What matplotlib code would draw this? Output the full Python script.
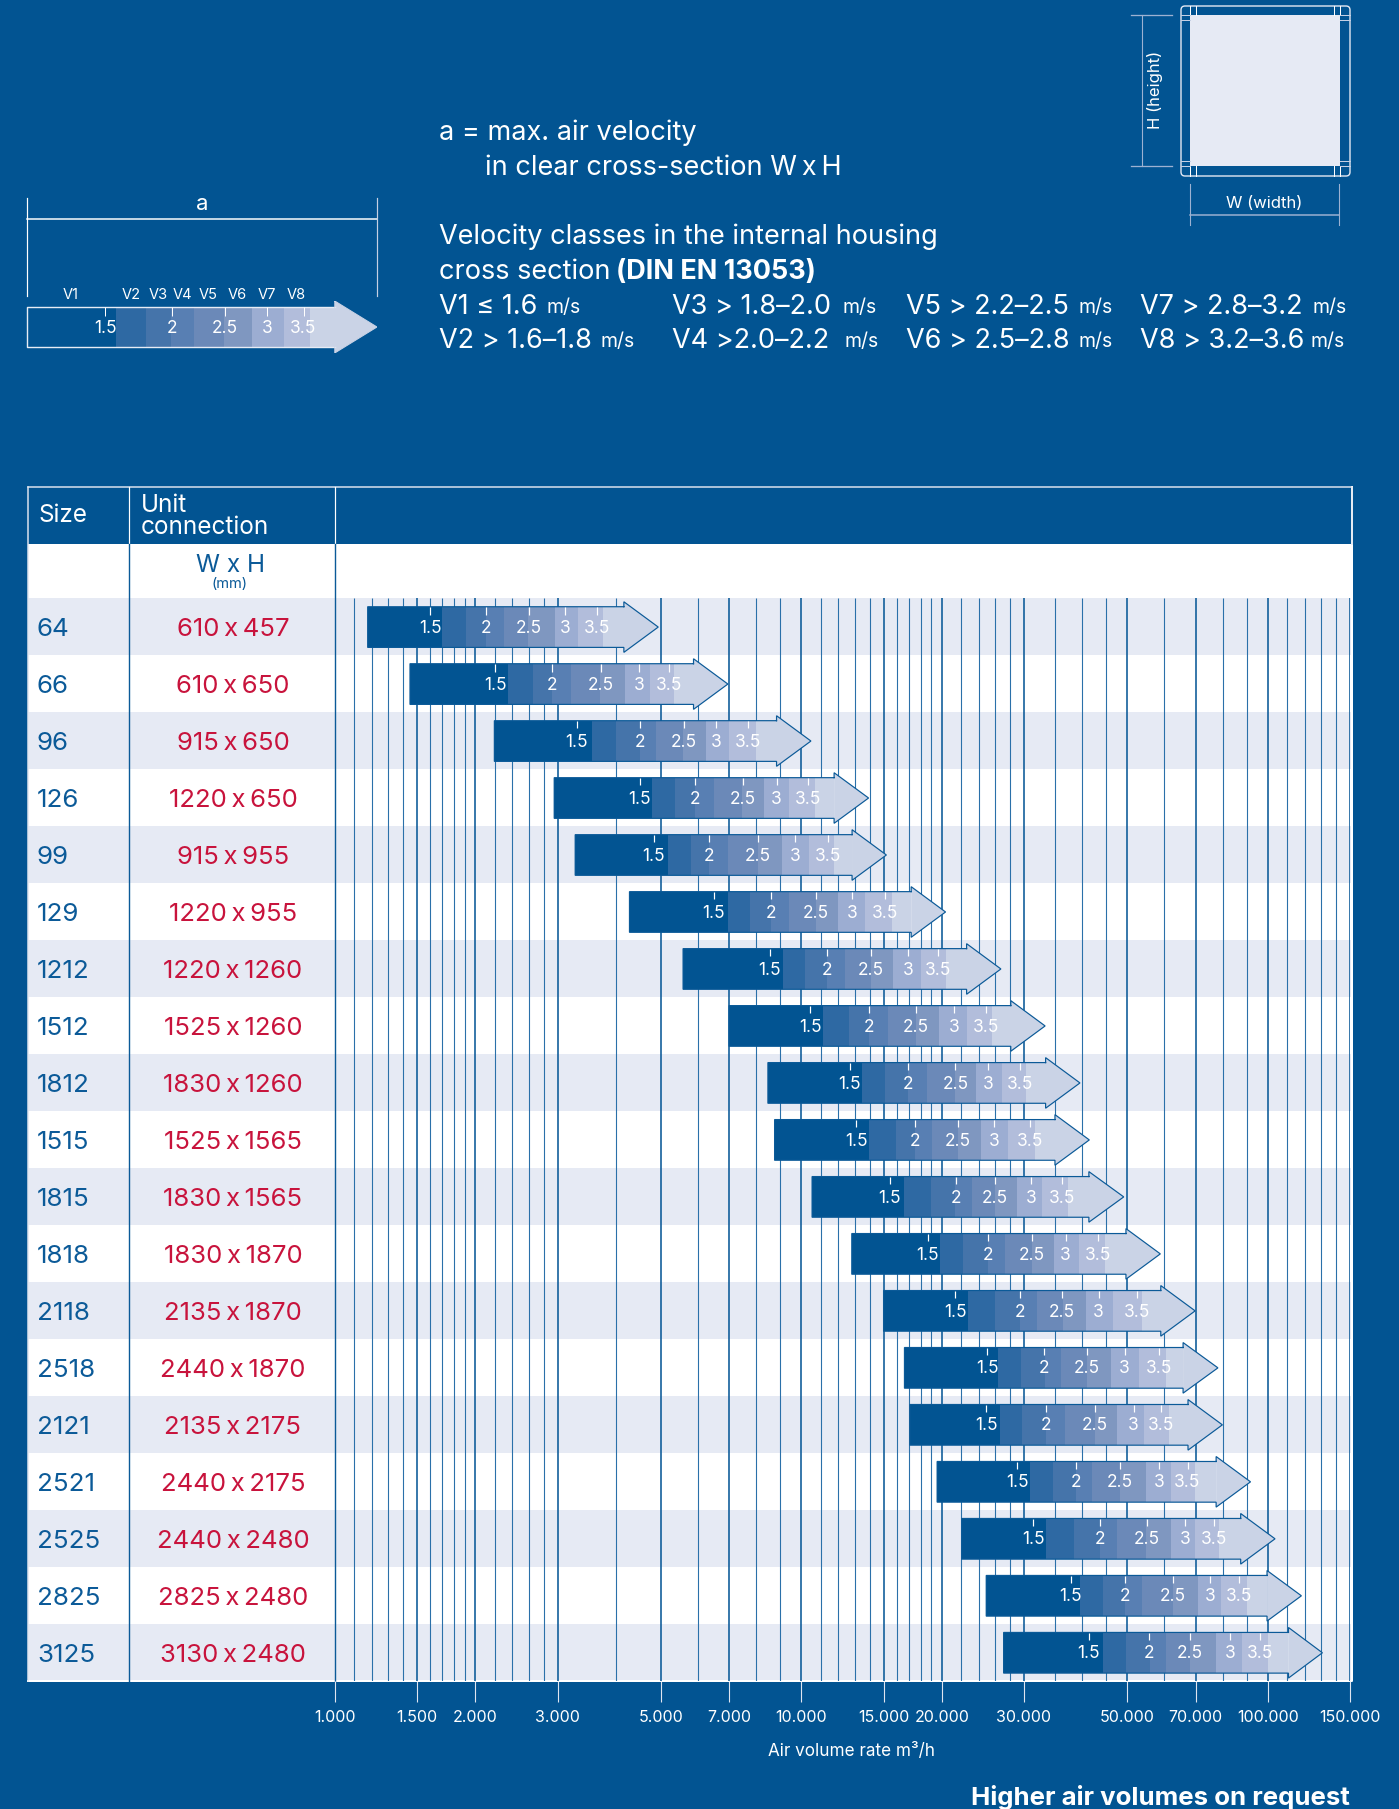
import matplotlib
matplotlib.use('Agg')
import matplotlib.pyplot as plt
from matplotlib.patches import Rectangle, FancyBboxPatch
from matplotlib.ticker import NullLocator

plt.rcParams['font.family'] = ['Inter', 'DejaVu Sans']

sizes = ['64', '66', '96', '126', '99', '129', '1212', '1512', '1812', '1515', '1815', '1818',
         '2118', '2518', '2121', '2521', '2525', '2825', '3125']
units = ['610 x 457', '610 x 650', '915 x 650', '1220 x 650', '915 x 955', '1220 x 955', '1220 x 1260',
         '1525 x 1260', '1830 x 1260', '1525 x 1565', '1830 x 1565', '1830 x 1870', '2135 x 1870',
         '2440 x 1870', '2135 x 2175', '2440 x 2175', '2440 x 2480', '2825 x 2480', '3130 x 2480']

# air volume m3/h where each arrow starts, where each velocity class ends, head base and tip
start = [1175, 1448, 2196, 2951, 3273, 4279, 5575, 6995, 8474, 8759, 10540, 12820, 15000, 16630, 17080, 19540, 22050, 24900, 27130]
v1_end = [1697, 2352, 3559, 4782, 5177, 6965, 9133, 11140, 13490, 13980, 16630, 19840, 22800, 26420, 26600, 30970, 33520, 39640, 44260]
v2_end = [1907, 2661, 4000, 5363, 5793, 7759, 10170, 12660, 15100, 15950, 18940, 22250, 25960, 29630, 29760, 34570, 38350, 44260, 49520]
v3_end = [2106, 2925, 4506, 5922, 6340, 8606, 11340, 13980, 16930, 17540, 21380, 25060, 29370, 33230, 33380, 38690, 43770, 49300, 55780]
v4_end = [2306, 3209, 4878, 6496, 6955, 9399, 12410, 15330, 18570, 19070, 23250, 27250, 31940, 35970, 36690, 42070, 47590, 53610, 60380]
v5_end = [2591, 3703, 5580, 7464, 8080, 10750, 14100, 17610, 21340, 21670, 25960, 31170, 36290, 40880, 42530, 48120, 54920, 62690, 68020]
v6_end = [2964, 4190, 6243, 8315, 9081, 11980, 15710, 19710, 23670, 24250, 29050, 34730, 40700, 46050, 47590, 54680, 61870, 70770, 77290]
v7_end = [3317, 4740, 7001, 9407, 10390, 13700, 18050, 22650, 26890, 27740, 32870, 39290, 46450, 52910, 54200, 61870, 69840, 79190, 88030]
v8_end = [3752, 5327, 7991, 10690, 11750, 15640, 20420, 25620, 30290, 31660, 37350, 44650, 53850, 60380, 61320, 69690, 78490, 90190, 100000]
head = [4162, 5870, 8844, 11750, 12840, 17190, 22600, 28110, 33380, 34960, 41330, 49630, 58940, 65800, 67420, 77460, 87440, 99590, 110700]
tip = [4932, 6955, 10480, 13930, 15210, 20370, 26770, 33300, 39550, 41420, 49090, 58810, 69840, 78150, 79890, 91790, 103600, 118000, 130900]

# air volume at the labelled velocities
at_1_5 = [1599, 2206, 3295, 4506, 4824, 6490, 8549, 10450, 12680, 13110, 15470, 18650, 21380, 25010, 24900, 28990, 31380, 37760, 41330]
at_2_0 = [2106, 2925, 4506, 5922, 6340, 8606, 11340, 13980, 16930, 17540, 21480, 25060, 29370, 33160, 33380, 38690, 43670, 49300, 55660]
at_2_5 = [2603, 3711, 5592, 7480, 8080, 10750, 14100, 17610, 21380, 21670, 25960, 31170, 36210, 40970, 42530, 48120, 55050, 62690, 68020]
at_3_0 = [3118, 4486, 6568, 8844, 9702, 12820, 16930, 21240, 25120, 25900, 31100, 36860, 43390, 49300, 51520, 58420, 66530, 75270, 83120]
at_3_5 = [3646, 5200, 7681, 10320, 11420, 15100, 19620, 24900, 29370, 30900, 36210, 43200, 52330, 58420, 59070, 67270, 76780, 86870, 96350]

speed_labels = ['1.5', '2', '2.5', '3', '3.5']
class_names = ['V1', 'V2', 'V3', 'V4', 'V5', 'V6', 'V7', 'V8']

tick_vals = [1000, 1500, 2000, 3000, 5000, 7000, 10000, 15000, 20000, 30000, 50000, 70000, 100000, 150000]
tick_names = ['1.000', '1.500', '2.000', '3.000', '5.000', '7.000', '10.000', '15.000', '20.000', '30.000',
              '50.000', '70.000', '100.000', '150.000']
thin_vals = [1100, 1200, 1300, 1400, 1600, 1700, 1800, 1900, 2200, 2400, 2600, 2800, 4000, 6000, 8000, 9000,
             11000, 12000, 13000, 14000, 16000, 17000, 18000, 19000, 22000, 24000, 26000, 28000, 35000, 40000,
             45000, 60000, 80000, 90000, 110000, 120000, 130000, 140000]

# key arrow, velocities in m/s as drawn
key_start, key_head, key_tip = 1.075, 4.0, 4.79
key_ends = [1.57, 1.79, 1.99, 2.19, 2.49, 2.81, 3.22, 3.6]
key_ticks = [1.5, 2, 2.5, 3, 3.5]
key_pos = [71, 131, 158, 182, 208, 237, 267, 296]

BG = '#025492'
STRIPE = '#e6eaf4'
RED = '#c8133c'
LINE = '#0b5a98'
THIN = '#2a70a9'
LIGHT = '#cad3e6'
seg_colors = [BG, '#2e69a3', '#4574aa', '#587fb3', '#6b89b8', '#7f97c0', '#9cadd2', '#b2bddb', LIGHT]

W, H = 1399, 1809
px = 0.72  # one pixel in points at dpi 100

fig = plt.figure(figsize=(W / 100, H / 100), dpi=100, facecolor=BG)

# page level things in pixel coordinates
bg = fig.add_axes([0, 0, 1, 1], zorder=0)
bg.set_xlim(0, W)
bg.set_ylim(H, 0)
bg.axis('off')

LEFT, COL1, COL2, RIGHT, TABLE_R = 27.5, 128.6, 335, 1350, 1351.5
TOP, HEAD_B, ROWS_T, ROWS_B = 487, 544, 598, 1680.7
row_h = (ROWS_B - ROWS_T) / len(sizes)

bg.add_patch(Rectangle((LEFT, HEAD_B), TABLE_R - LEFT, ROWS_B - HEAD_B, color='white', lw=0))
for i in range(0, len(sizes), 2):
    bg.add_patch(Rectangle((LEFT, ROWS_T + i * row_h), TABLE_R - LEFT, row_h, color=STRIPE, lw=0))

bg.plot([LEFT, TABLE_R, TABLE_R], [ROWS_B, ROWS_B, TOP], color='white', lw=2 * px)
bg.plot([LEFT, TABLE_R, TABLE_R], [TOP, TOP, HEAD_B], color='#dfe5f0', lw=1.5 * px)
bg.plot([LEFT, LEFT], [TOP, ROWS_B], color='#dfe5f0', lw=1.5 * px)
for x in [COL1, COL2]:
    bg.plot([x, x], [TOP, HEAD_B], color='white', lw=1.2 * px)
    bg.plot([x, x], [HEAD_B, ROWS_B], color=LINE, lw=1.4 * px, zorder=3)

bg.text(38, 516, 'Size', color='white', fontsize=17.5, va='center')
bg.text(141, 506, 'Unit', color='white', fontsize=17.5, va='center')
bg.text(141, 528, 'connection', color='white', fontsize=17.5, va='center')
bg.text(230, 566, 'W x H', color=LINE, fontsize=17.5, va='center', ha='center')
bg.text(230, 584, '(mm)', color=LINE, fontsize=10.5, va='center', ha='center')

for i, (s, u) in enumerate(zip(sizes, units)):
    yc = ROWS_T + (i + 0.5) * row_h
    bg.text(37, yc + 3.5, s, color=LINE, fontsize=18.7, va='center')
    bg.text(233, yc + 3.5, u.replace(' x ', '\u2009x\u2009'), color=RED, fontsize=18.5, va='center', ha='center')

# top texts
TXT = 19.5
bg.text(439, 133, 'a = max. air velocity', color='white', fontsize=TXT, va='center')
bg.text(485, 168, 'in clear cross-section W\u2009x\u2009H', color='white', fontsize=TXT, va='center')
bg.text(439, 237, 'Velocity classes in the internal housing', color='white', fontsize=TXT, va='center')
bg.text(439, 272, 'cross section', color='white', fontsize=TXT, va='center')
bg.text(616, 272, '(DIN EN 13053)', color='white', fontsize=TXT, va='center', fontweight='bold')

class_text = [('V1 \u2264 1.6', 439, 307, 546), ('V2 > 1.6\u20131.8', 439, 341, 600),
              ('V3 > 1.8\u20132.0', 672, 307, 843), ('V4 >2.0\u20132.2', 672, 341, 844),
              ('V5 > 2.2\u20132.5', 906, 307, 1078), ('V6 > 2.5\u20132.8', 906, 341, 1078),
              ('V7 > 2.8\u20133.2', 1140, 307, 1312), ('V8 > 3.2\u20133.6', 1140, 341, 1311)]
for t, x, y, xu in class_text:
    bg.text(x, y, t, color='white', fontsize=TXT, va='center')
    bg.text(xu, y + 1, 'm/s', color='white', fontsize=14, va='center')

# key bracket
bg.plot([27, 377], [219, 219], color='white', lw=1.5 * px)
bg.plot([27, 27], [198, 296], color='white', lw=1.2 * px)
bg.plot([377, 377], [198, 296], color='#c5d0e4', lw=1.2 * px)
bg.text(202, 204, 'a', color='white', fontsize=16, va='center', ha='center')
for name, x in zip(class_names, key_pos):
    bg.text(x, 295, name, color='white', fontsize=10.5, va='center', ha='center')

# housing sketch top right
bg.add_patch(FancyBboxPatch((1181, 6), 169, 170, boxstyle='round,pad=0,rounding_size=4', fc=BG, ec='#e3e8f3', lw=1.4 * px))
bg.add_patch(Rectangle((1190, 15), 150, 150.7, color=STRIPE, lw=0))
for x in [1190, 1196, 1334, 1340]:
    bg.plot([x, x], [6, 15], color='white', lw=1 * px)
    bg.plot([x, x], [165.7, 176], color='white', lw=1 * px)
for y in [15, 20, 160.7, 165.7]:
    bg.plot([1181, 1190], [y, y], color='#c5d0e4', lw=1 * px)
    bg.plot([1340, 1350], [y, y], color='#c5d0e4', lw=1 * px)
for y in [15, 165.7]:
    bg.plot([1131, 1172], [y, y], color='#9db2d2', lw=1.3 * px)
bg.plot([1141.5, 1141.5], [15, 165.7], color='#9db2d2', lw=1.1 * px)
bg.text(1155, 90, 'H (height)', color='white', fontsize=12, rotation=90, va='center', ha='center')
bg.plot([1190, 1339], [215, 215], color='#9db2d2', lw=1.5 * px)
for x in [1190, 1339]:
    bg.plot([x, x], [184, 225], color='#9db2d2', lw=1.1 * px)
bg.text(1264.5, 204, 'W (width)', color='white', fontsize=12, va='center', ha='center')

bg.text(851, 1751, 'Air volume rate m\u00b3/h', color='white', fontsize=12.3, va='center', ha='center')
bg.text(1350, 1798, 'Higher air volumes on request', color='white', fontsize=18.6, va='center', ha='right', fontweight='bold')

# key arrow on its own velocity scale
key = fig.add_axes([27 / W, 1 - 353 / H, 350 / W, 52 / H], zorder=1)
key.set_xscale('log')
key.set_xlim(key_start, key_tip)
key.set_ylim(1, 0)
key.axis('off')
key_edges = [key_start] + key_ends + [key_head]
for j in range(len(seg_colors)):
    key.barh(0.5, key_edges[j + 1] - key_edges[j], left=key_edges[j], height=0.78, color=seg_colors[j], lw=0)
key.fill([key_head, key_head, key_tip], [0, 1, 0.5], color=LIGHT, lw=0)
key.plot([key_head, key_start, key_start, key_head], [0.11, 0.11, 0.89, 0.89], color='#e7ecf5', lw=1.4 * px, clip_on=False)
key.plot([key_head, key_tip, key_head, key_head], [0, 0.5, 1, 0], color=LIGHT, lw=1 * px)
for v, lab in zip(key_ticks, speed_labels):
    key.vlines(v, 0.12, 0.28, color='white', lw=1 * px)
    key.text(v, 0.53, lab, color='white', fontsize=12.5, va='center', ha='center')

# main chart on air volume scale
ax = fig.add_axes([COL2 / W, 1 - ROWS_B / H, (RIGHT - COL2) / W, (ROWS_B - ROWS_T) / H], zorder=2)
ax.patch.set_visible(False)
ax.set_xscale('log')
ax.set_xlim(1000, 150000)
ax.set_ylim(len(sizes), 0)
ax.vlines(thin_vals, 0, len(sizes), color=THIN, lw=1.1 * px, zorder=1)
ax.vlines(tick_vals, 0, len(sizes), color=LINE, lw=1.6 * px, zorder=1)

for i in range(len(sizes)):
    yc = i + 0.51
    edges = [start[i], v1_end[i], v2_end[i], v3_end[i], v4_end[i], v5_end[i], v6_end[i], v7_end[i], v8_end[i], head[i]]
    for j in range(len(seg_colors)):
        ax.barh(yc, edges[j + 1] - edges[j], left=edges[j], height=0.714, color=seg_colors[j], lw=0, zorder=2)
    ax.fill([head[i], head[i], tip[i]], [yc - 0.444, yc + 0.444, yc], color=LIGHT, lw=0, zorder=2)
    ax.plot([head[i], head[i], tip[i], head[i], head[i], start[i], start[i], head[i]],
            [yc - 0.357, yc - 0.444, yc, yc + 0.444, yc + 0.357, yc + 0.357, yc - 0.357, yc - 0.357],
            color=LINE, lw=1.2 * px, zorder=3, solid_joinstyle='miter')
    marks = [at_1_5[i], at_2_0[i], at_2_5[i], at_3_0[i], at_3_5[i]]
    ax.vlines(marks, yc - 0.345, yc - 0.22, color='white', lw=1.2 * px, zorder=4)
    for m, lab in zip(marks, speed_labels):
        ax.text(m, yc + 0.02, lab, color='white', fontsize=12.5, va='center', ha='center', zorder=5)

ax.set_xticks(tick_vals)
ax.set_xticklabels(tick_names)
ax.xaxis.set_minor_locator(NullLocator())
ax.set_yticks([])
ax.tick_params(axis='x', length=15, width=0.8, color='#dfe5f0', labelcolor='white', labelsize=11.5, pad=6)
for side in ax.spines:
    ax.spines[side].set_visible(False)

fig.savefig('out.png', dpi=100, facecolor=BG)
